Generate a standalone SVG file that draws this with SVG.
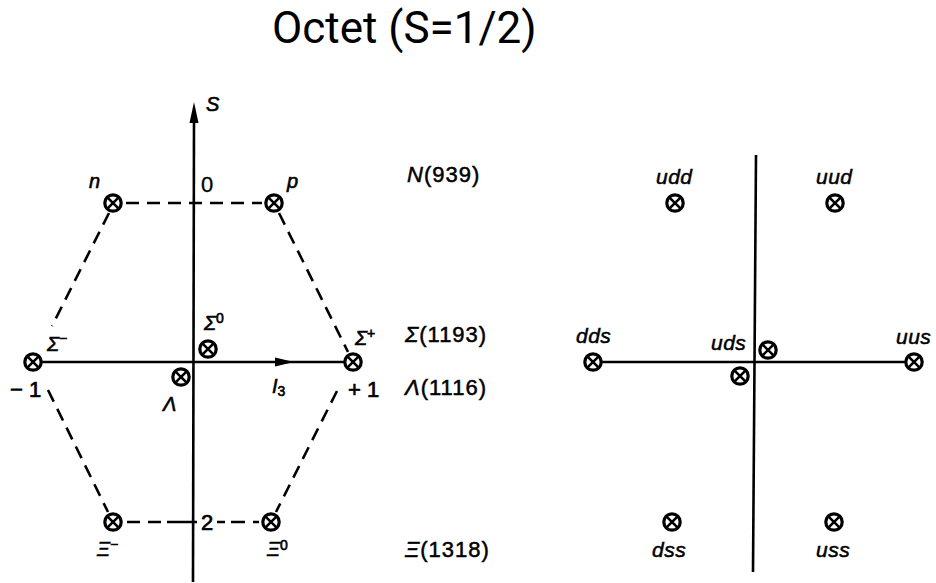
<svg xmlns="http://www.w3.org/2000/svg" xmlns:xlink="http://www.w3.org/1999/xlink" width="936" height="583" viewBox="0 0 936 583">
<style>
.axis{stroke:#000;stroke-width:2.6;fill:none}
.dash{stroke:#000;stroke-width:2.6;fill:none;stroke-dasharray:13 8}
.lbl{font-family:"Liberation Sans",Arial,sans-serif;font-style:italic;font-size:20px;fill:#000;stroke:#000;stroke-width:0.6}
.num{font-family:"Liberation Sans",Arial,sans-serif;font-size:22px;fill:#000;stroke:#000;stroke-width:0.7}
.mass{font-family:"Liberation Sans",Arial,sans-serif;font-size:22px;letter-spacing:1px;fill:#000;stroke:#000;stroke-width:0.5}
.q{font-family:"Liberation Sans",Arial,sans-serif;font-style:italic;font-size:21px;letter-spacing:0.5px;fill:#000;stroke:#000;stroke-width:0.5}
.title{font-family:Roboto,"Liberation Sans",sans-serif;font-size:44px;fill:#000}
</style>
<defs>
<g id="ot">
<circle r="8.2" fill="#fff" stroke="#000" stroke-width="3.2"/>
<path d="M-5.2,-5.2L5.2,5.2M5.2,-5.2L-5.2,5.2" stroke="#000" stroke-width="2.6"/>
</g>
</defs>
<rect width="936" height="583" fill="#fff"/>
<text class="title" x="272" y="43">Octet (S=1/2)</text>

<g id="connectors">
<line class="axis" x1="193" y1="582" x2="194" y2="120"/>
<polygon points="194,102 189.5,123 198.5,123" fill="#000"/>
<line class="axis" x1="33" y1="362" x2="353" y2="362"/>
<polygon points="294,362 275,357.5 275,366.5" fill="#000"/>
<line class="dash" x1="126" y1="203" x2="262" y2="203"/>
<line class="dash" x1="109" y1="213" x2="52" y2="326"/>
<line class="dash" x1="279" y1="213" x2="348" y2="352"/>
<line class="dash" x1="48" y1="390" x2="108" y2="512"/>
<line class="dash" x1="337" y1="391" x2="276" y2="512"/>
<line class="dash" x1="127" y1="522" x2="197" y2="522" style="stroke-dasharray:13 8 13 6 30"/>
<line class="dash" x1="217" y1="522" x2="260" y2="522" style="stroke-dasharray:8 6 14"/>
<line class="axis" x1="756" y1="155" x2="753" y2="572"/>
<line class="axis" x1="593" y1="362" x2="914" y2="362"/>
</g>

<g id="axis-labels">
<text class="lbl" x="206" y="111" font-size="21">S</text>
<text class="num" x="201" y="192" style="stroke-width:0.3">0</text>
<text class="num" x="10" y="397">− 1</text>
<text class="num" x="348" y="397">+ 1</text>
<text class="lbl" x="272" y="393">I<tspan font-size="14" dy="3" font-style="normal">3</tspan></text>
<text class="num" x="201" y="530">2</text>
</g>

<g id="node-n"><use xlink:href="#ot" x="113" y="203"/><text class="lbl" x="89" y="188" font-size="21">n</text></g>
<g id="node-p"><use xlink:href="#ot" x="274" y="203"/><text class="lbl" x="287" y="188" font-size="21">p</text></g>
<g id="node-sigma-minus"><use xlink:href="#ot" x="33" y="362"/><text class="lbl" x="47" y="351" font-size="20">Σ<tspan font-size="14" dy="-8" font-style="normal">−</tspan></text></g>
<g id="node-sigma0"><use xlink:href="#ot" x="208" y="349"/><text class="lbl" x="204" y="330" font-size="20">Σ<tspan font-size="14" dy="-7" font-style="normal">0</tspan></text></g>
<g id="node-sigma-plus"><use xlink:href="#ot" x="353" y="362"/><text class="lbl" x="355" y="345" font-size="20">Σ<tspan font-size="14" dy="-7" font-style="normal">+</tspan></text></g>
<g id="node-lambda"><use xlink:href="#ot" x="181" y="377"/><text class="lbl" x="163" y="411" font-size="19">Λ</text></g>
<g id="node-xi-minus"><use xlink:href="#ot" x="113" y="522"/><text class="lbl" x="97" y="556" font-size="18">Ξ<tspan font-size="14" dy="-7" font-style="normal">−</tspan></text></g>
<g id="node-xi0"><use xlink:href="#ot" x="271" y="522"/><text class="lbl" x="267" y="556" font-size="18">Ξ<tspan font-size="14" dy="-6" font-style="normal">0</tspan></text></g>

<g id="mass-labels">
<text class="mass" x="407" y="182"><tspan font-style="italic">N</tspan>(939)</text>
<text class="mass" x="405" y="342"><tspan font-style="italic">Σ</tspan>(1193)</text>
<text class="mass" x="405" y="395"><tspan font-style="italic">Λ</tspan>(1116)</text>
<text class="mass" x="405" y="557"><tspan font-style="italic">Ξ</tspan>(1318)</text>
</g>

<g id="q-udd"><use xlink:href="#ot" x="675" y="203"/><text class="q" x="656" y="184">udd</text></g>
<g id="q-uud"><use xlink:href="#ot" x="835" y="203"/><text class="q" x="816" y="184">uud</text></g>
<g id="q-dds"><use xlink:href="#ot" x="593" y="362"/><text class="q" x="576" y="343">dds</text></g>
<g id="q-uus"><use xlink:href="#ot" x="914" y="362"/><text class="q" x="896" y="344">uus</text></g>
<g id="q-uds"><use xlink:href="#ot" x="768" y="350"/><text class="q" x="711" y="350">uds</text></g>
<g id="q-uds2"><use xlink:href="#ot" x="740" y="376"/></g>
<g id="q-dss"><use xlink:href="#ot" x="672" y="522"/><text class="q" x="652" y="557">dss</text></g>
<g id="q-uss"><use xlink:href="#ot" x="834" y="522"/><text class="q" x="816" y="557">uss</text></g>
</svg>
